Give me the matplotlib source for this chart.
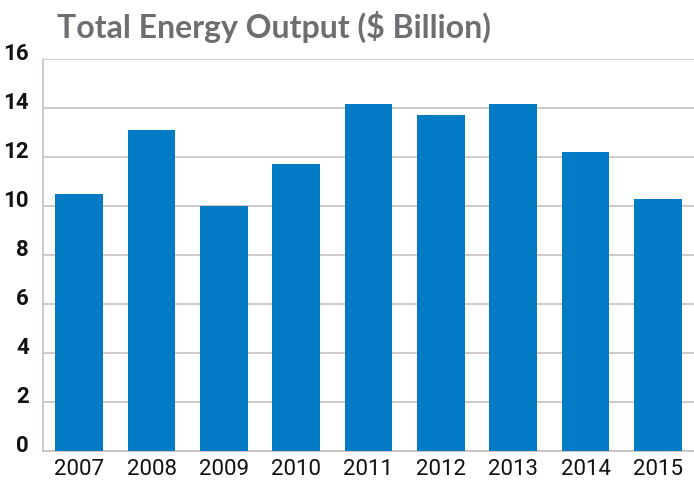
import matplotlib
matplotlib.use("Agg")
import matplotlib.pyplot as plt
from matplotlib import font_manager

years = ["2007", "2008", "2009", "2010", "2011", "2012", "2013", "2014", "2015"]
output = [10.5, 13.1, 10.0, 11.7, 14.15, 13.7, 14.15, 12.2, 10.3]
yticks = [0, 2, 4, 6, 8, 10, 12, 14, 16]

names = {f.name for f in font_manager.fontManager.ttflist}
tick_font = ["Liberation Sans Narrow", "DejaVu Sans"] if "Liberation Sans Narrow" in names else ["Roboto", "DejaVu Sans"]

fig = plt.figure(figsize=(6.94, 4.81), dpi=100)
ax = fig.add_axes([43 / 694, 29 / 481, 651 / 694, 392 / 481])

grid_col = "#c9c0be"
ax.bar(range(len(years)), output, width=0.66, color="#037bc5", zorder=3)

ax.set_xlim(-0.5, 8.5)
ax.set_ylim(0, 16)
ax.set_yticks(yticks)
ax.set_yticklabels([str(v) for v in yticks])
ax.set_xticks(range(len(years)))
ax.set_xticklabels(years)
ax.grid(axis="y", color=grid_col, linewidth=1.2, zorder=0)

for s in ["top", "right"]:
    ax.spines[s].set_visible(False)
ax.spines["left"].set_color(grid_col)
ax.spines["bottom"].set_color(grid_col)
ax.spines["left"].set_linewidth(1.2)
ax.spines["bottom"].set_linewidth(1.2)
ax.tick_params(length=0)
ax.tick_params(axis="y", pad=10)
ax.tick_params(axis="x", pad=5)

for lab in ax.get_yticklabels():
    lab.set_family(tick_font)
    lab.set_fontweight("bold")
    lab.set_fontsize(16)
    lab.set_va("baseline")
    lab.set_color("#111111")
for lab in ax.get_xticklabels():
    lab.set_family(tick_font)
    lab.set_fontsize(16)
    lab.set_color("#111111")

fig.text(57 / 694, 1 - 38 / 481, "Total Energy Output ($ Billion)", fontsize=23,
         fontweight="bold", family=["Lato", "DejaVu Sans"], color="#6d6e71",
         va="baseline", ha="left")

fig.savefig("out.png", dpi=100)
